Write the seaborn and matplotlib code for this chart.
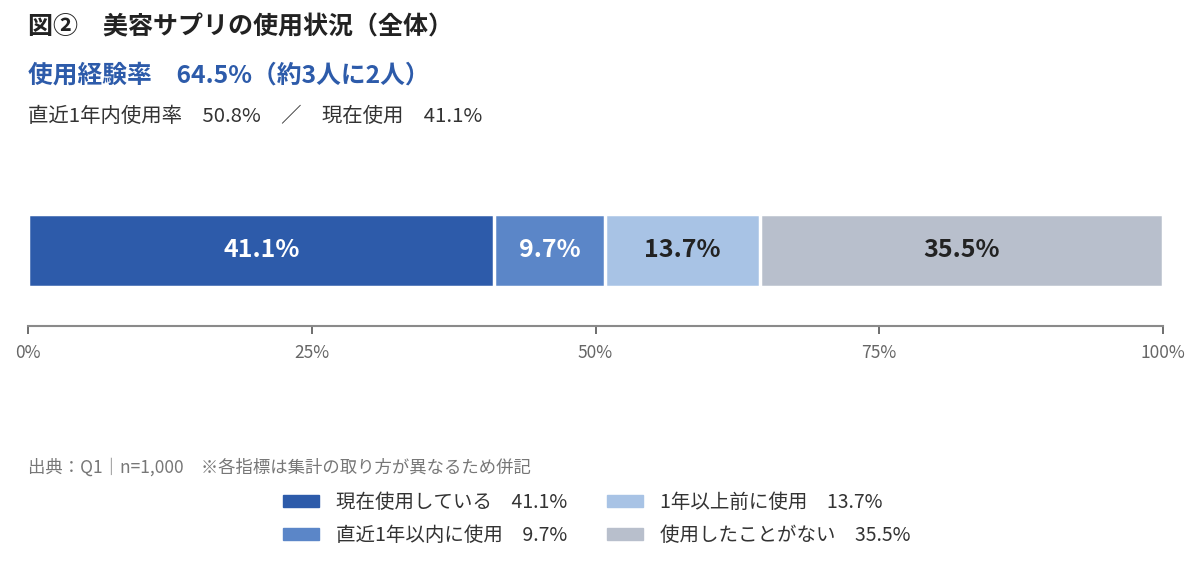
import numpy as np
import pandas as pd
import matplotlib
matplotlib.use("Agg")
import matplotlib.pyplot as plt
import seaborn as sns

# data
categories = ["現在使用している", "直近1年以内に使用", "1年以上前に使用", "使用したことがない"]
values = [41.1, 9.7, 13.7, 35.5]
colors = ["#2D5BAA", "#5B86C8", "#A8C3E5", "#B8BFCC"]
label_colors = ["white", "white", "#222222", "#222222"]
tick_values = [0, 25, 50, 75, 100]
tick_labels = ["0%", "25%", "50%", "75%", "100%"]

sns.set_theme(style="white")
plt.rcParams["font.family"] = ["Noto Sans CJK JP", "DejaVu Sans"]

W, H = 1200, 566
fig = plt.figure(figsize=(W / 100, H / 100), dpi=100)

def fx(px):
    return px / W

def fy(py):
    return 1 - py / H

# axes placed so the bar sits at 214-287 px and the axis line at 326 px
ax = fig.add_axes([fx(28), fy(326), fx(1163 - 28), (326 - 200) / H])

# stacked bar: draw cumulative totals from the longest to the shortest
cum = np.cumsum(values)
df = pd.DataFrame({"cat": categories, "value": values, "cum": cum, "row": ["all"] * 4})
for i in reversed(range(len(df))):
    sns.barplot(x=[df["cum"][i]], y=["all"], orient="h", color=colors[i],
                saturation=1, width=0.8, edgecolor="white", linewidth=2.5, ax=ax)

for i in range(len(df)):
    ax.text(df["cum"][i] - df["value"][i] / 2, 0, f"{df['value'][i]:.1f}%",
            ha="center", va="center", fontsize=18, fontweight="bold",
            color=label_colors[i])

ax.set_xlim(0, 100)
ax.set_ylim(0.827, -0.553)
ax.set_xticks(tick_values)
ax.set_xticklabels(tick_labels)
ax.set_yticks([])
ax.set_xlabel("")
ax.set_ylabel("")
for s in ["top", "right", "left"]:
    ax.spines[s].set_visible(False)
ax.spines["bottom"].set_color("#8a8a8a")
ax.spines["bottom"].set_linewidth(1.5)
ax.tick_params(axis="x", direction="out", length=6, width=1.2, color="#555555",
               labelsize=12.5, labelcolor="#666666", pad=7, bottom=True)

# header texts
fig.text(fx(28), fy(27), "図②　美容サプリの使用状況（全体）", fontsize=18,
         fontweight="bold", color="#222222", va="center")
fig.text(fx(28), fy(76), "使用経験率　64.5%（約3人に2人）", fontsize=17.8,
         fontweight="bold", color="#2D5BAA", va="center")
fig.text(fx(28), fy(117), "直近1年内使用率　50.8%　／　現在使用　41.1%", fontsize=14.7,
         color="#333333", va="center")

# source note
fig.text(fx(28), fy(467), "出典：Q1｜n=1,000　※各指標は集計の取り方が異なるため併記",
         fontsize=12.5, color="#777777", va="center")

# legend
handles = [plt.Rectangle((0, 0), 1, 1, color=c) for c in colors]
labels = [f"{c}　{v}%" for c, v in zip(categories, values)]
fig.legend(handles, labels, ncol=2, loc="upper left", bbox_to_anchor=(fx(283), fy(492)),
           frameon=False, fontsize=14, handlelength=1.85, handleheight=0.6,
           handletextpad=0.9, columnspacing=2.0, labelspacing=0.6,
           borderpad=0, borderaxespad=0, labelcolor="#333333")

fig.savefig("out.png", dpi=100)
